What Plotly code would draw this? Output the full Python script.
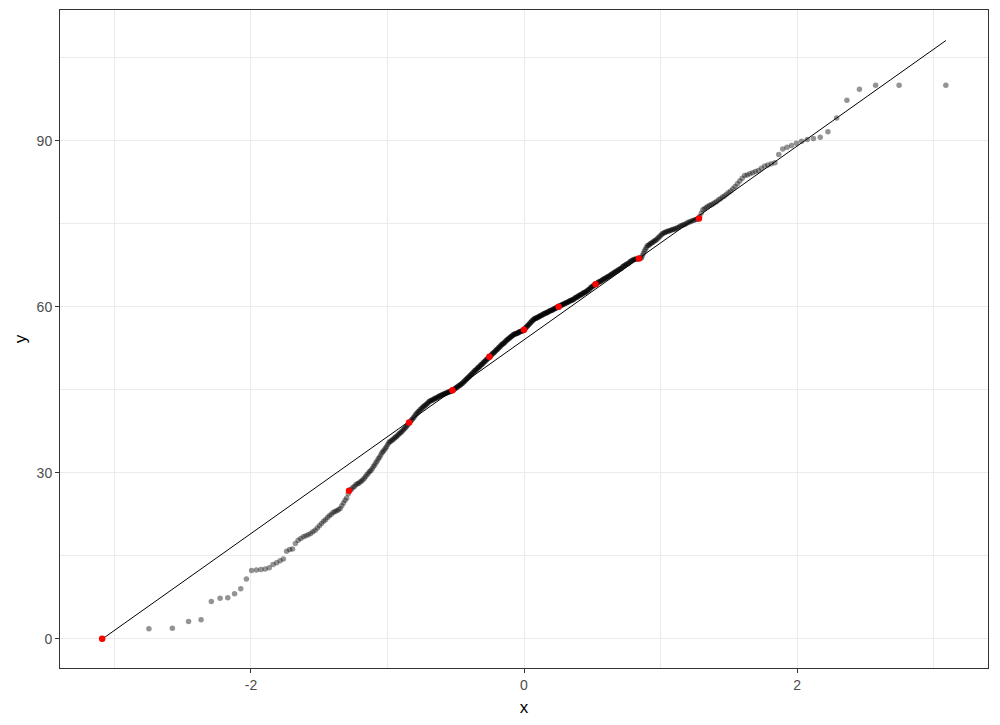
import numpy as np
import plotly.graph_objects as go
from statistics import NormalDist

# Sorted sample values (n = 500)
sample_values = [
    0.0, 1.8, 1.9, 3.1, 3.4, 6.7, 7.3, 7.4, 8.1, 9.0,
    10.8, 12.3, 12.4, 12.5, 12.6, 12.8, 13.4, 13.7, 14.1, 14.4,
    15.8, 16.1, 16.2, 17.2, 17.8, 18.1, 18.4, 18.6, 18.8, 19.0,
    19.3, 19.6, 20.0, 20.4, 20.8, 21.2, 21.5, 21.9, 22.2, 22.5,
    22.8, 23.0, 23.1, 23.3, 23.5, 24.0, 24.5, 25.0, 25.4, 26.2,
    26.8, 27.0, 27.3, 27.5, 27.8, 28.0, 28.1, 28.3, 28.5, 28.7,
    29.0, 29.3, 29.6, 29.9, 30.2, 30.4, 30.7, 31.1, 31.4, 31.8,
    32.1, 32.5, 32.8, 33.2, 33.6, 33.8, 34.1, 34.4, 34.7, 35.1,
    35.4, 35.6, 35.7, 35.9, 36.0, 36.2, 36.4, 36.5, 36.7, 36.9,
    37.1, 37.2, 37.4, 37.6, 37.8, 38.0, 38.2, 38.4, 38.6, 38.9,
    39.1, 39.3, 39.5, 39.7, 39.9, 40.1, 40.4, 40.6, 40.8, 41.0,
    41.1, 41.3, 41.5, 41.6, 41.8, 41.9, 42.1, 42.2, 42.3, 42.5,
    42.6, 42.8, 42.9, 43.0, 43.1, 43.1, 43.2, 43.3, 43.4, 43.5,
    43.5, 43.6, 43.7, 43.8, 43.9, 43.9, 44.0, 44.1, 44.1, 44.2,
    44.3, 44.3, 44.4, 44.5, 44.5, 44.6, 44.6, 44.7, 44.7, 44.8,
    44.9, 45.0, 45.1, 45.2, 45.3, 45.4, 45.5, 45.6, 45.7, 45.8,
    45.9, 46.0, 46.1, 46.2, 46.4, 46.5, 46.6, 46.8, 46.9, 47.0,
    47.2, 47.3, 47.4, 47.6, 47.7, 47.8, 48.0, 48.1, 48.2, 48.4,
    48.5, 48.6, 48.7, 48.9, 49.0, 49.1, 49.2, 49.4, 49.5, 49.6,
    49.7, 49.9, 50.0, 50.1, 50.2, 50.4, 50.5, 50.6, 50.7, 50.9,
    51.0, 51.1, 51.2, 51.4, 51.5, 51.6, 51.7, 51.8, 52.0, 52.1,
    52.2, 52.3, 52.5, 52.6, 52.7, 52.8, 53.0, 53.1, 53.2, 53.3,
    53.4, 53.5, 53.6, 53.8, 53.9, 54.0, 54.1, 54.2, 54.3, 54.4,
    54.5, 54.6, 54.7, 54.8, 54.9, 55.0, 55.0, 55.1, 55.1, 55.2,
    55.2, 55.3, 55.4, 55.4, 55.5, 55.5, 55.6, 55.6, 55.7, 55.7,
    55.9, 56.0, 56.2, 56.3, 56.4, 56.6, 56.7, 56.8, 57.0, 57.1,
    57.2, 57.4, 57.5, 57.6, 57.7, 57.8, 57.9, 57.9, 58.0, 58.0,
    58.1, 58.2, 58.2, 58.3, 58.4, 58.4, 58.5, 58.6, 58.6, 58.7,
    58.8, 58.8, 58.9, 58.9, 59.0, 59.1, 59.1, 59.2, 59.3, 59.3,
    59.4, 59.4, 59.5, 59.6, 59.6, 59.7, 59.8, 59.8, 59.9, 60.0,
    60.0, 60.1, 60.2, 60.2, 60.3, 60.4, 60.4, 60.5, 60.5, 60.6,
    60.7, 60.7, 60.8, 60.9, 60.9, 61.0, 61.1, 61.1, 61.2, 61.2,
    61.3, 61.4, 61.5, 61.6, 61.7, 61.7, 61.8, 61.9, 62.0, 62.1,
    62.1, 62.2, 62.3, 62.4, 62.5, 62.5, 62.6, 62.7, 62.8, 62.9,
    63.0, 63.1, 63.2, 63.4, 63.5, 63.6, 63.7, 63.8, 63.9, 64.0,
    64.1, 64.2, 64.3, 64.4, 64.5, 64.5, 64.6, 64.7, 64.8, 64.9,
    65.0, 65.1, 65.1, 65.3, 65.3, 65.4, 65.5, 65.6, 65.7, 65.8,
    65.9, 66.0, 66.1, 66.2, 66.3, 66.4, 66.5, 66.6, 66.7, 66.8,
    66.9, 67.0, 67.2, 67.3, 67.4, 67.5, 67.6, 67.7, 67.8, 67.9,
    68.1, 68.2, 68.3, 68.4, 68.5, 68.5, 68.6, 68.6, 68.6, 68.7,
    68.7, 68.8, 68.8, 69.2, 69.6, 70.0, 70.3, 70.7, 71.0, 71.1,
    71.2, 71.4, 71.5, 71.6, 71.8, 71.9, 72.0, 72.2, 72.4, 72.6,
    72.8, 73.0, 73.2, 73.3, 73.4, 73.5, 73.6, 73.6, 73.7, 73.8,
    73.9, 74.0, 74.0, 74.1, 74.2, 74.3, 74.5, 74.6, 74.7, 74.8,
    74.9, 75.0, 75.2, 75.3, 75.4, 75.5, 75.6, 75.7, 75.8, 75.9,
    76.3, 76.9, 77.5, 77.7, 77.9, 78.1, 78.3, 78.4, 78.6, 78.8,
    79.0, 79.3, 79.5, 79.8, 80.0, 80.3, 80.6, 80.9, 81.3, 81.7,
    82.2, 82.7, 83.2, 83.7, 83.8, 84.0, 84.2, 84.4, 84.6, 85.0,
    85.4, 85.6, 85.8, 86.0, 87.5, 88.5, 88.8, 89.1, 89.5, 89.9,
    90.2, 90.4, 90.6, 91.6, 94.1, 97.3, 99.3, 100.0, 100.0, 100.0,
]

# Highlighted probabilities (deciles)
red_probs = [0.1, 0.2, 0.3, 0.4, 0.5, 0.6, 0.7, 0.8, 0.9]

# Reference line (intercept, slope)
line_intercept = 54.0
line_slope = 17.5

# Axis ticks
x_ticks = [-2, 0, 2]
x_ticktext = ["-2", "0", "2"]
y_ticks = [0, 30, 60, 90]
y_ticktext = ["0", "30", "60", "90"]

sample = np.sort(np.array(sample_values, dtype=float))
n = len(sample)
nd = NormalDist()
theo = np.array([nd.inv_cdf((i - 0.5) / n) for i in range(1, n + 1)])

red_x = [theo[0]] + [nd.inv_cdf(p) for p in red_probs]
red_y = [sample[0]] + list(np.quantile(sample, red_probs))

line_x = [theo.min(), theo.max()]
line_y = [line_intercept + line_slope * v for v in line_x]

fig = go.Figure()
fig.add_trace(go.Scatter(x=theo, y=sample, mode="markers",
                         marker=dict(color="rgba(0,0,0,0.42)", size=5.5, line=dict(width=0)),
                         showlegend=False, hoverinfo="skip"))
fig.add_trace(go.Scatter(x=line_x, y=line_y, mode="lines",
                         line=dict(color="black", width=1), showlegend=False))
fig.add_trace(go.Scatter(x=red_x, y=red_y, mode="markers",
                         marker=dict(color="red", size=6.5, line=dict(width=0)),
                         showlegend=False))

FONT = "Liberation Sans, Arial, sans-serif"
axis_common = dict(
    showline=True, mirror=True, linecolor="#333333", linewidth=1,
    showgrid=True, gridcolor="#EBEBEB", gridwidth=1,
    zeroline=False, ticks="outside", ticklen=4, tickcolor="#333333", tickwidth=1,
    tickfont=dict(family=FONT, size=14, color="#4D4D4D"),
    automargin=False,
)

# The page body adds an 8px offset, so the figure is sized/margined to compensate
fig.update_layout(
    width=992, height=717,
    margin=dict(l=52, r=12, t=2, b=57),
    paper_bgcolor="white", plot_bgcolor="white",
    font=dict(family=FONT, color="black"),
    xaxis=dict(range=[-3.399, 3.399], tickvals=x_ticks, ticktext=x_ticktext,
               minor=dict(tickvals=[-3, -1, 1, 3], showgrid=True, gridcolor="#EBEBEB", gridwidth=0.5, ticks=""),
               title=dict(text="x", font=dict(size=17, color="black"), standoff=9),
               **axis_common),
    yaxis=dict(range=[-5.3, 113.6], tickvals=y_ticks, ticktext=y_ticktext,
               minor=dict(tickvals=[15, 45, 75, 105], showgrid=True, gridcolor="#EBEBEB", gridwidth=0.5, ticks=""),
               title=dict(text="y", font=dict(size=17, color="black"), standoff=5),
               **axis_common),
)

fig.write_html("out.html")
